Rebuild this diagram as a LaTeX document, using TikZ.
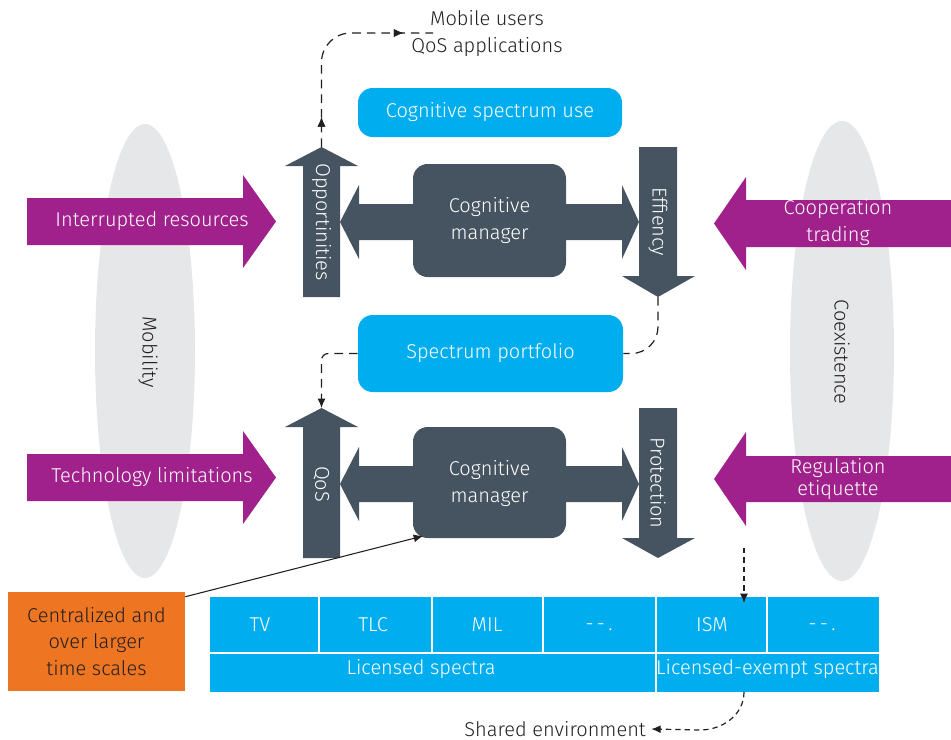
\documentclass[tikz,border=0pt]{standalone}
\usepackage{fontspec}
\setmainfont{Fira Sans}[UprightFont=* Light]
\usetikzlibrary{arrows.meta,decorations.markings}
\definecolor{ink}{RGB}{35,31,32}
\definecolor{plum}{RGB}{160,33,139}
\definecolor{sky}{RGB}{0,174,239}
\definecolor{slate}{RGB}{69,84,96}
\definecolor{haze}{RGB}{230,231,232}
\definecolor{tang}{RGB}{238,118,35}
\begin{document}
\begin{tikzpicture}[x=0.75pt,y=-0.75pt,
  every node/.style={inner sep=0pt, font=\fontsize{15}{20.25}\selectfont},
  lbl/.style={text=white, align=center},
  dlbl/.style={text=ink, align=center},
  vlbl/.style={text=white, rotate=-90},
  ribbon/.style={fill=plum},
  darrow/.style={fill=slate},
  mgr/.style={fill=slate, rounded corners=11pt, minimum width=153*0.75pt, text=white, align=center},
  skybox/.style={fill=sky, rounded corners=11pt, text=white, align=center},
  tip/.style={-{Latex[length=7pt,width=6pt]}},
  dashc/.style={draw=ink, line width=0.9pt, dash pattern=on 6.5pt off 4.5pt},
  dashs/.style={draw=ink, line width=0.9pt, dash pattern=on 4pt off 3pt},
  midtip/.style={postaction={decorate}, decoration={markings,
     mark=at position #1 with {\arrow{Latex[length=7pt,width=6pt]}}}},
  cellline/.style={draw=white, line width=1.1pt}
]
\useasboundingbox (0,0) rectangle (951,740);

% side ellipses
\fill[haze] (145,351) ellipse [x radius=50, y radius=227];
\fill[haze] (842,351) ellipse [x radius=52, y radius=230];
\node[dlbl, rotate=-90] (mob) at (148,352) {Mobility};
\node[dlbl, rotate=-90] (coex) at (842,352) {Coexistence};

% purple input ribbons
\fill[ribbon] (27,198) -- (243,198) -- (243,175) -- (276,221.5) -- (243,268) -- (243,245) -- (27,245) -- cycle;
\fill[ribbon] (27,454) -- (243,454) -- (243,431) -- (276,477.5) -- (243,524) -- (243,501) -- (27,501) -- cycle;
\fill[ribbon] (951,200) -- (746,200) -- (746,177) -- (714,223.5) -- (746,270) -- (746,247) -- (951,247) -- cycle;
\fill[ribbon] (951,456) -- (746,456) -- (746,432) -- (714,479) -- (746,526) -- (746,502) -- (951,502) -- cycle;
\node[lbl] (intr) at (152,221) {Interrupted resources};
\node[lbl] (tech) at (152,477) {Technology limitations};
\node[lbl] (coop) at (838,223) {Cooperation\\trading};
\node[lbl, font=\fontsize{15}{16}\selectfont] (regu) at (838,479) {Regulation\\etiquette};

% upper cognitive manager with its arrows
\fill[darrow] (340,222) -- (359,185) -- (359,204) -- (622,204) -- (622,185) -- (639,222) -- (622,259) -- (622,240) -- (359,240) -- (359,259) -- cycle;
\fill[darrow] (303,297) -- (340,297) -- (340,166) -- (358,166) -- (321.5,147) -- (285,166) -- (303,166) -- cycle;
\fill[darrow] (639,147) -- (677,147) -- (677,276) -- (695,276) -- (658,297) -- (622,276) -- (639,276) -- cycle;
\coordinate (opptip) at (321.5,147);
\coordinate (efftip) at (658,297);
\node[mgr, minimum height=113*0.75pt] (cm1) at (489.5,220.5) {};
\node[lbl] (cm1t) at (489.5,220.5) {Cognitive\\manager};
\node[vlbl] (opp) at (321.5,222) {Opportinities};
\node[vlbl] (eff) at (658,222) {Effiency};

% lower cognitive manager with its arrows
\fill[darrow] (340,484) -- (359,447) -- (359,466) -- (622,466) -- (622,447) -- (639,484) -- (622,521) -- (622,502) -- (359,502) -- (359,521) -- cycle;
\fill[darrow] (303,558) -- (340,558) -- (340,427) -- (358,427) -- (321.5,408) -- (285,427) -- (303,427) -- cycle;
\fill[darrow] (639,408) -- (677,408) -- (677,538) -- (695,538) -- (658,558) -- (622,538) -- (639,538) -- cycle;
\coordinate (qostip) at (321.5,408);
\node[mgr, minimum height=111*0.75pt] (cm2) at (489.5,482.5) {};
\node[lbl] (cm2t) at (489.5,484) {Cognitive\\manager};
\node[vlbl] (qos) at (321.5,484) {QoS};
\node[vlbl] (prot) at (658,483) {Protection};

% spectrum boxes
\node[skybox, minimum width=264*0.75pt, minimum height=49*0.75pt] (use) at (490,112.5) {Cognitive spectrum use};
\node[skybox, minimum width=265*0.75pt, minimum height=77*0.75pt] (port) at (490.5,353.5) {Spectrum portfolio};

% top label
\node[dlbl] (users) at (487,33.5) {Mobile users\\QoS applications};
\coordinate (usersin) at (433,33);

% dashed flows
\draw[dashc, rounded corners=22pt, midtip=0.14, midtip=0.86] (opptip) |- (usersin);
\draw[dashc, rounded corners=20pt] (efftip) |- (port.east);
\draw[dashc, rounded corners=5pt, tip] (port.west) -| (qostip);

% spectrum table
\fill[sky] (210,597) rectangle (879,692);
\draw[cellline] (210,653) -- (879,653);
\foreach \xx in {319,432,543,656,767} \draw[cellline] (\xx,597) -- (\xx,653);
\draw[cellline] (656,653) -- (656,692);
\node[lbl] (tv)  at (260,625) {TV};
\node[lbl] (tlc) at (373,625) {TLC};
\node[lbl] (mil) at (487,625) {MIL};
\node[lbl] (etc1) at (599,627) {-\,-\,.};
\node[lbl] (ism) at (712,625) {ISM};
\node[lbl] (etc2) at (822,627) {-\,-\,.};
\node[lbl] (lic) at (421,669) {Licensed spectra};
\node[lbl] (exm) at (767.5,669) {Licensed-exempt spectra};

\coordinate (protout) at (744,548);
\coordinate (ismin) at (744,603);
\draw[dashs, tip] (protout) -- (ismin);

\coordinate (tabout) at (744,692);
\node[dlbl, anchor=east] (shared) at (646,729) {Shared environment};
\draw[dashs, tip] (tabout) to[out=-90,in=0] (700,730) -- ([xshift=4pt]shared.east);

% centralized note
\node[fill=tang, minimum width=177*0.75pt, minimum height=99*0.75pt, text=ink, align=center,
      font=\fontsize{15}{19.9}\selectfont] (cent) at (96.5,641.5) {Centralized and\\over larger\\time scales};
\draw[ink, line width=0.8pt, tip] (cent.north east) ++(0,5) -- (423,536);
\end{tikzpicture}
\end{document}
